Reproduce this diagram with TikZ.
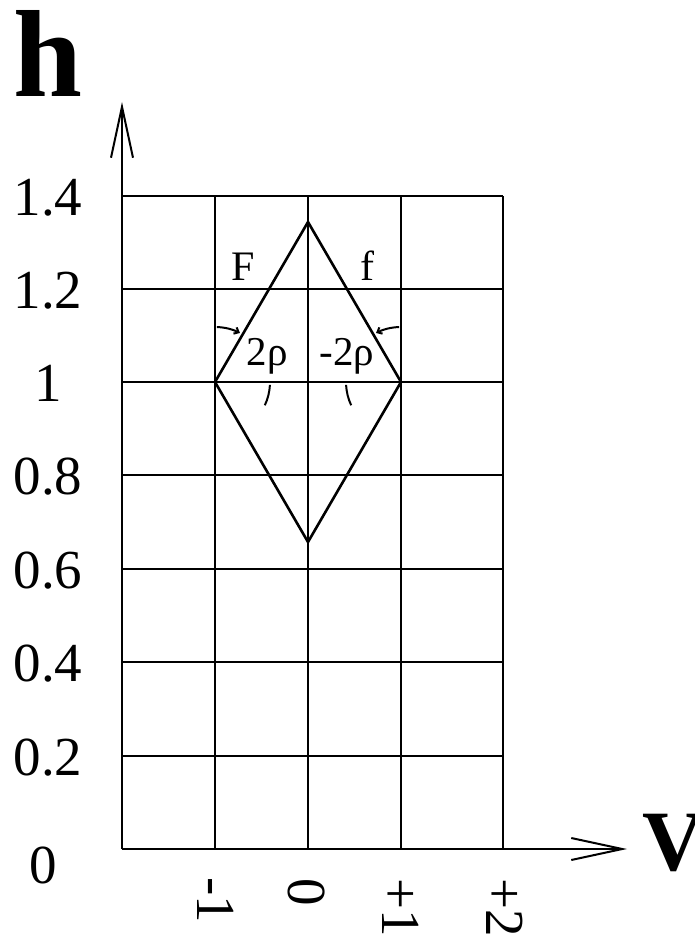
\documentclass[tikz,border=0pt]{standalone}
\usepackage{fontspec}
\setmainfont{Liberation Serif}
\usetikzlibrary{arrows.meta}
\begin{document}
\begin{tikzpicture}[x=1pt,y=-1pt,
  gridline/.style={line width=2pt},
  axisline/.style={line width=2.2pt,-{Straight Barb[length=51pt,width=22pt,line width=2pt]}},
  edge/.style={line width=2.6pt,line join=miter},
  anglemark/.style={line width=2pt},
  numlabel/.style={font=\fontsize{55}{60}\selectfont,inner sep=0pt,anchor=base},
  ticklabel/.style={font=\fontsize{55}{60}\selectfont,inner sep=0pt,anchor=base west,rotate=-90},
  sidelabel/.style={font=\fontsize{42}{46}\selectfont,inner sep=0pt,anchor=base},
  anglelabel/.style={font=\fontsize{41}{46}\selectfont,inner sep=0pt,anchor=base}]
\useasboundingbox (0,0) rectangle (695,936);
% grid coordinates
\coordinate (O) at (122,849);
\coordinate (Ytip) at (122,102);
\coordinate (Xtip) at (627,849);
% grid
\foreach \yy in {196,289,382,475,569,662,756}
  \draw[gridline] (122,\yy) -- (503,\yy);
\foreach \xx in {215,308,401,503}
  \draw[gridline] (\xx,196) -- (\xx,849);
% axes
\draw[axisline] (O) -- (Ytip);
\draw[axisline] (O) -- (Xtip);
% diamond
\coordinate (T) at (308,222);
\coordinate (L) at (215,382);
\coordinate (R) at (401,382);
\coordinate (B) at (308,542);
\draw[edge] (T) -- (L) -- (B) -- (R) -- cycle;
% angle marks
\draw[anglemark,-{Straight Barb[length=4pt,width=7pt]}] (L) ++(-88:55) arc[start angle=-88,end angle=-63,radius=55];
\draw[anglemark] (L) ++(3:55) arc[start angle=3,end angle=25,radius=55];
\draw[anglemark,-{Straight Barb[length=4pt,width=7pt]}] (R) ++(-92:55) arc[start angle=-92,end angle=-117,radius=55];
\draw[anglemark] (R) ++(-183:55) arc[start angle=-183,end angle=-205,radius=55];
% labels
\node[font=\bfseries\fontsize{124}{130}\selectfont,inner sep=0pt,anchor=base] (hlab) at (48,97) {h};
\node[font=\bfseries\fontsize{86}{90}\selectfont,inner sep=0pt,anchor=base west] (vlab) at (642,870) {V};
\node[numlabel] (y14) at (48,215) {1.4};
\node[numlabel] (y12) at (48,308) {1.2};
\node[numlabel] (y10) at (48,401) {1};
\node[numlabel] (y08) at (48,494) {0.8};
\node[numlabel] (y06) at (48,588) {0.6};
\node[numlabel] (y04) at (48,681) {0.4};
\node[numlabel] (y02) at (48,775) {0.2};
\node[numlabel] (y00) at (43,883) {0};
\node[ticklabel] (xm1) at (197,877) {-1};
\node[ticklabel] (x0) at (288,878) {0};
\node[ticklabel] (xp1) at (382,878) {+1};
\node[ticklabel] (xp2) at (486,878) {+2};
\node[sidelabel] (Flab) at (243,280) {F};
\node[sidelabel] (flab) at (367,280) {f};
\node[anglelabel] (a1) at (267,365) {2ρ};
\node[anglelabel] (a2) at (347,365) {-2ρ};
\end{tikzpicture}
\end{document}
